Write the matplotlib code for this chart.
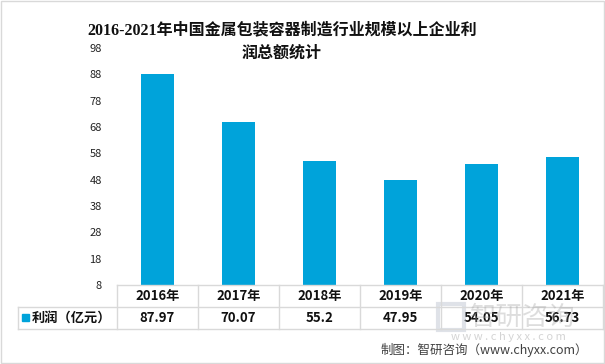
import matplotlib.pyplot as plt
from matplotlib.patches import Rectangle
from matplotlib.lines import Line2D
import matplotlib.transforms as mtransforms

plt.rcParams['font.family'] = ['Noto Sans CJK SC', 'DejaVu Sans']

years = ['2016年', '2017年', '2018年', '2019年', '2020年', '2021年']
profit = [87.97, 70.07, 55.2, 47.95, 54.05, 56.73]
profit_labels = ['87.97', '70.07', '55.2', '47.95', '54.05', '56.73']
series_name = '利润（亿元）'
yticks = list(range(8, 99, 10))

bar_color = '#00a3da'
grid_color = '#d9d9d9'

W, H = 605, 364
fig = plt.figure(figsize=(W / 100, H / 100), dpi=100)

def fx(px):
    return px / W

def fy(py):
    return 1 - py / H

# plot area
ax = fig.add_axes([fx(117), fy(285), fx(603) - fx(117), fy(48) - fy(285)])
xs = list(range(len(years)))
ax.bar(xs, profit, width=0.41, color=bar_color, bottom=0)
ax.set_xlim(-0.5, len(years) - 0.5)
ax.set_ylim(8, 98)
ax.set_yticks(yticks)
ax.set_yticklabels([str(t) for t in yticks], fontsize=8, color='#222222')
ax.set_xticks([])
ax.tick_params(axis='y', length=0, pad=11)
for s in ax.spines.values():
    s.set_visible(False)

# data table below the axes
trans = mtransforms.blended_transform_factory(ax.transData, fig.transFigure)
y_top, y_mid, y_bot = fy(285), fy(307), fy(329)
line_kw = dict(color=grid_color, lw=1, transform=fig.transFigure)
fig.add_artist(Line2D([fx(117), fx(603)], [y_top, y_top], **line_kw))
fig.add_artist(Line2D([fx(18), fx(603)], [y_mid, y_mid], **line_kw))
fig.add_artist(Line2D([fx(18), fx(603)], [y_bot, y_bot], **line_kw))
fig.add_artist(Line2D([fx(18), fx(18)], [y_mid, y_bot], **line_kw))
for i in range(len(years) + 1):
    fig.add_artist(Line2D([i - 0.5, i - 0.5], [y_top, y_bot], color=grid_color, lw=1,
                          transform=trans))

# watermark (drawn under the table text)
fig.add_artist(Rectangle((fx(438), fy(330)), fx(26), fy(304) - fy(330), facecolor='none',
                         edgecolor='#b8c0cc', lw=3, alpha=0.45, transform=fig.transFigure))
fig.text(fx(470), fy(317), '智研咨询', ha='left', va='center', fontsize=19,
         color='#a0a0a0', alpha=0.35)
fig.text(fx(508), fy(337), 'w w w . c h y x x . c o m', ha='center', va='center',
         fontsize=8, color='#a0a0a0', alpha=0.45)

for i, (yr, lab) in enumerate(zip(years, profit_labels)):
    ax.text(i, (y_top + y_mid) / 2, yr, transform=trans, ha='center', va='center',
            fontsize=9.5, fontweight='bold', color='#111111')
    ax.text(i, (y_mid + y_bot) / 2, lab, transform=trans, ha='center', va='center',
            fontsize=9.5, fontweight='bold', color='#111111')

fig.add_artist(Rectangle((fx(22), fy(321)), fx(7), fy(314) - fy(321), color=bar_color,
                         transform=fig.transFigure))
fig.text(fx(32), (y_mid + y_bot) / 2, series_name, ha='left', va='center',
         fontsize=9.5, fontweight='bold', color='#111111')

# title
title_font = ['Liberation Serif', 'Noto Sans CJK SC']
fig.text(fx(282), fy(30), '2016-2021年中国金属包装容器制造行业规模以上企业利',
         ha='center', va='center', fontsize=11.5, fontweight='bold',
         family=title_font, color='#111111')
fig.text(fx(282), fy(54), '润总额统计', ha='center', va='center', fontsize=11.5,
         fontweight='bold', family=title_font, color='#111111')

# source
fig.text(fx(588), fy(350), '制图：智研咨询（www.chyxx.com）', ha='right', va='center',
         fontsize=9, color='#404040')

# outer frame
fig.add_artist(Rectangle((0.001, 0.002), 0.997, 0.995, facecolor='none',
                         edgecolor=grid_color, lw=1, transform=fig.transFigure))

fig.savefig('out.png', dpi=100)
